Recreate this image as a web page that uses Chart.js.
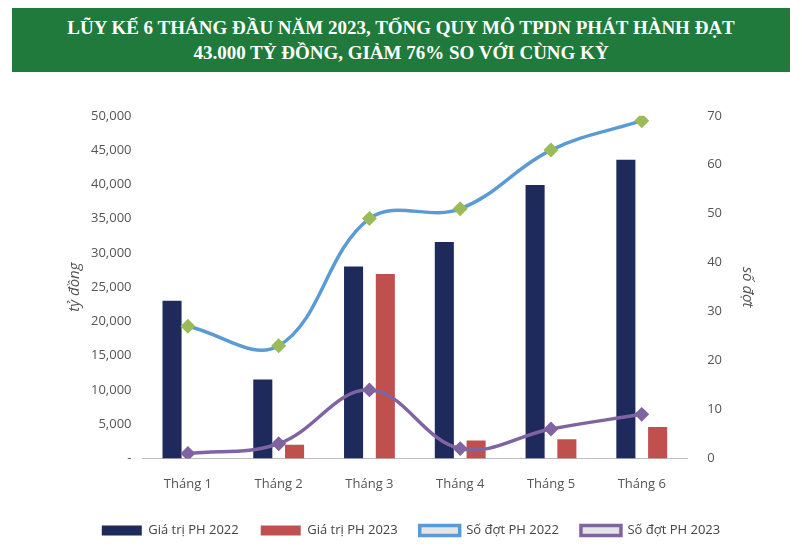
<!DOCTYPE html>
<html><head><meta charset="utf-8">
<script src="https://cdn.jsdelivr.net/npm/chart.js@4"></script>
<style>
body{margin:0;width:802px;height:547px;background:#fff;overflow:hidden;font-family:"Liberation Serif",serif}
#banner{position:absolute;left:12px;top:8px;width:778px;height:64px;background:#1f7a3c;color:#fff;font-weight:bold;font-size:19px;text-align:center;line-height:25px;padding-top:7px;box-sizing:border-box}
#wrap{position:absolute;left:0;top:96px;width:802px;height:451px}
</style></head><body>
<div id="banner">LŨY KẾ 6 THÁNG ĐẦU NĂM 2023, TỔNG QUY MÔ TPDN PHÁT HÀNH ĐẠT<br>43.000 TỶ ĐỒNG, GIẢM 76% SO VỚI CÙNG KỲ</div>
<div id="wrap"><canvas id="c"></canvas></div>
<script>
const categories=["Tháng 1","Tháng 2","Tháng 3","Tháng 4","Tháng 5","Tháng 6"];
const value2022=[23000,11500,28000,31600,39900,43600];
const value2023=[0,2000,26900,2600,2800,4600];
const count2022=[27,23,49,51,63,69];
const count2023=[1,3,14,2,6,9];
const font={family:"Open Sans, sans-serif",size:13};
new Chart(document.getElementById('c'),{
 data:{labels:categories,datasets:[
  {type:'line',label:'Số đợt PH 2022',data:count2022,yAxisID:'y2',borderColor:'#5b9bd5',borderWidth:3.5,tension:0.38,pointStyle:'rectRot',pointRadius:5,pointBackgroundColor:'#9bbb59',pointBorderColor:'#9bbb59',order:0},
  {type:'line',label:'Số đợt PH 2023',data:count2023,yAxisID:'y2',borderColor:'#8064a2',borderWidth:3.5,tension:0.38,pointStyle:'rectRot',pointRadius:5,pointBackgroundColor:'#8064a2',pointBorderColor:'#8064a2',order:0},
  {type:'bar',label:'Giá trị PH 2022',data:value2022,yAxisID:'y',backgroundColor:'#1f2a5c',barPercentage:0.6,categoryPercentage:0.7,order:1},
  {type:'bar',label:'Giá trị PH 2023',data:value2023,yAxisID:'y',backgroundColor:'#c0504d',barPercentage:0.6,categoryPercentage:0.7,order:1}
 ]},
 options:{responsive:true,maintainAspectRatio:false,animation:false,
  layout:{padding:{left:62,right:42,top:10,bottom:0}},
  plugins:{legend:{position:'bottom',labels:{font,color:'#444',boxWidth:40,boxHeight:10,padding:22,
    sort:(a,b)=>[2,3,0,1].indexOf(a.datasetIndex)-[2,3,0,1].indexOf(b.datasetIndex)}},tooltip:{enabled:false}},
  scales:{
   x:{grid:{display:false},border:{color:'#bbb'},ticks:{font,color:'#555',padding:10}},
   y:{min:0,max:50000,ticks:{stepSize:5000,font,color:'#555',callback:v=>v===0?'-':v.toLocaleString('en-US')},grid:{display:false},border:{display:false},
      title:{display:true,text:'tỷ đồng',font:{family:"Open Sans",size:15,style:'italic'},color:'#555'}},
   y2:{position:'right',min:0,max:70,ticks:{stepSize:10,font,color:'#555',padding:12},grid:{display:false},border:{display:false},
      title:{display:true,text:'số đợt',font:{family:"Open Sans",size:15,style:'italic'},color:'#555'}}
  }}
});
</script></body></html>
